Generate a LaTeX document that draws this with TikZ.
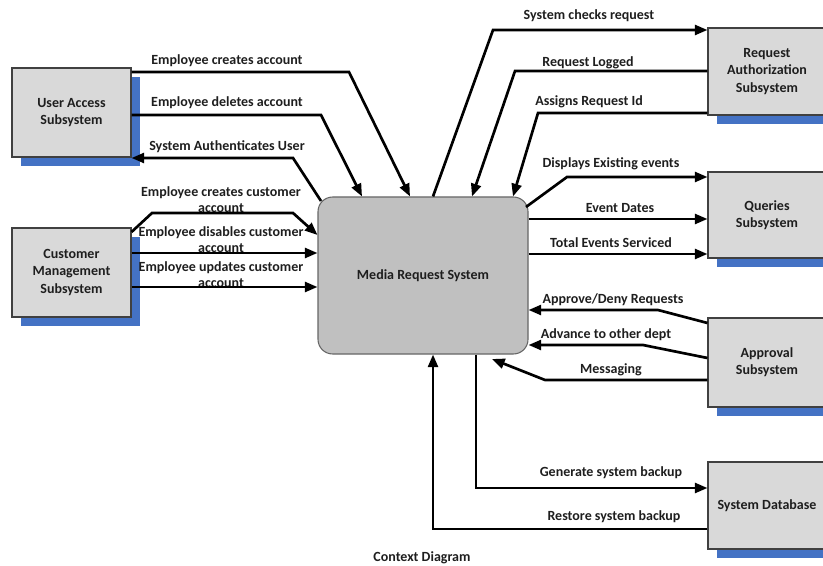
\documentclass[tikz,border=0pt]{standalone}
\usepackage{fontspec}
\setmainfont{Carlito}
\usetikzlibrary{arrows.meta,shadows}
\definecolor{boxfill}{HTML}{D9D9D9}
\definecolor{mrsfill}{HTML}{C0C0C0}
\definecolor{shadowblue}{HTML}{4472C4}
\definecolor{txt}{HTML}{1E1E1E}
\begin{document}
\begin{tikzpicture}[x=0.75pt,y=-0.75pt,
  sysbox/.style={draw=black!75, line width=0.8pt, fill=boxfill, align=center,
    font=\bfseries\fontsize{10.5}{12.8}\selectfont, text=txt, inner sep=0pt,
    drop shadow={shadow xshift=6.75pt, shadow yshift=-6.75pt, fill=shadowblue, opacity=1}},
  mainbox/.style={draw=black!60, line width=0.8pt, fill=mrsfill, rounded corners=11pt,
    font=\bfseries\fontsize{10.5}{12.8}\selectfont, text=txt, inner sep=0pt},
  lbl/.style={font=\bfseries\fontsize{10.5}{12}\selectfont, text=txt, align=center, inner sep=0pt},
  flow/.style={line width=2pt, draw=black},
  arr/.style={flow, -{Triangle[length=9.5pt,width=7.5pt]}}
]
\useasboundingbox (0,0) rectangle (823,566);

% boxes
\node[sysbox, minimum width=119*0.75pt, minimum height=89*0.75pt] (ua) at (71.5,112.5) {User Access\\Subsystem};
\node[sysbox, minimum width=119*0.75pt, minimum height=89*0.75pt] (cm) at (71.5,272.5) {Customer\\Management\\Subsystem};
\node[sysbox, minimum width=118*0.75pt, minimum height=87*0.75pt] (ra) at (767,71.5) {Request\\Authorization\\Subsystem};
\node[sysbox, minimum width=118*0.75pt, minimum height=86*0.75pt] (qs) at (767,215) {Queries\\Subsystem};
\node[sysbox, minimum width=118*0.75pt, minimum height=89*0.75pt] (ap) at (767,362.5) {Approval\\Subsystem};
\node[sysbox, minimum width=118*0.75pt, minimum height=87*0.75pt] (db) at (767,505.5) {System Database};
\node[mainbox, minimum width=210*0.75pt, minimum height=157*0.75pt] (mrs) at (423,275.5) {Media Request System};

% free ends
\coordinate (authstart) at (321,201);
\coordinate (dispstart) at (526,207);
\coordinate (msgend) at (492,359);

% labels
\node[lbl] (l1) at (227,61) {Employee creates account};
\node[lbl] (l2) at (227,103) {Employee deletes account};
\node[lbl] (l3) at (227,147) {System Authenticates User};
\node[lbl] (l4) at (221,200) {Employee creates customer\\account};
\node[lbl] (l5) at (221,240) {Employee disables customer\\account};
\node[lbl] (l6) at (221,275) {Employee updates customer\\account};
\node[lbl] (l7) at (589,16) {System checks request};
\node[lbl] (l8) at (588,63) {Request Logged};
\node[lbl] (l9) at (589,102) {Assigns Request Id};
\node[lbl] (l10) at (611,164) {Displays Existing events};
\node[lbl] (l11) at (620,208) {Event Dates};
\node[lbl] (l12) at (611,243) {Total Events Serviced};
\node[lbl] (l13) at (613,300) {Approve/Deny Requests};
\node[lbl] (l14) at (606,335) {Advance to other dept};
\node[lbl] (l15) at (611,370) {Messaging};
\node[lbl] (l16) at (611,473) {Generate system backup};
\node[lbl] (l17) at (614,517) {Restore system backup};
\node[lbl] (cap) at (422,558) {Context Diagram};

% connectors, left side
\draw[arr] (ua.east |- 0,72) -- (349,72) -- (mrs.north -| 410,0);
\draw[arr] (ua.east |- 0,115) -- (321,115) -- (mrs.north -| 362,0);
\draw[arr] (authstart) -- (293,158) -- (ua.east |- 0,158);
\draw[arr] (cm.east |- 0,232) -- (152,213) -- (293,213) -- (mrs.west |- 0,235);
\draw[arr] (cm.east |- 0,253) -- (mrs.west |- 0,253);
\draw[arr] (cm.east |- 0,287) -- (mrs.west |- 0,287);

% connectors, right side
\draw[arr] (mrs.north -| 433,0) -- (493,30) -- (ra.west |- 0,30);
\draw[arr] (ra.west |- 0,71) -- (515,71) -- (mrs.north -| 472,0);
\draw[arr] (ra.west |- 0,113) -- (538,113) -- (mrs.north -| 513,0);
\draw[arr] (dispstart) -- (567,177) -- (qs.west |- 0,177);
\draw[arr] (mrs.east |- 0,219) -- (qs.west |- 0,219);
\draw[arr] (mrs.east |- 0,254) -- (qs.west |- 0,254);
\draw[arr] (ap.west |- 0,323) -- (658,310) -- (mrs.east |- 0,310);
\draw[arr] (ap.west |- 0,358) -- (643,345) -- (mrs.east |- 0,345);
\draw[arr] (ap.west |- 0,380) -- (545,380) -- (msgend);

% connectors, bottom
\draw[arr] (mrs.south -| 476,0) -- (476,488) -- (db.west |- 0,488);
\draw[arr] (db.west |- 0,529) -- (433,529) -- (mrs.south -| 433,0);
\end{tikzpicture}
\end{document}
